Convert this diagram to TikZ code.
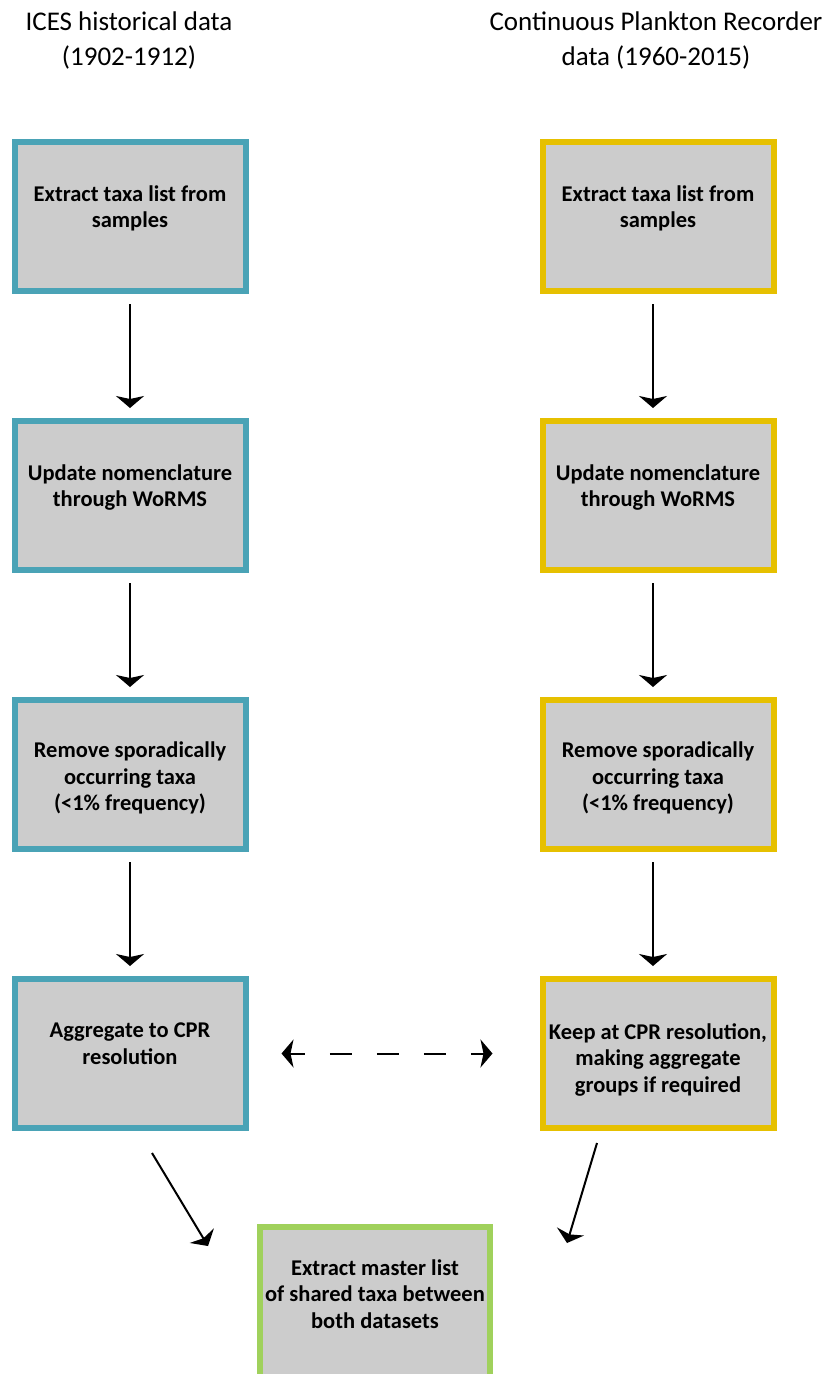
\documentclass[tikz,border=0pt]{standalone}
\usepackage{fontspec}
\setmainfont{Carlito}
\usetikzlibrary{arrows.meta}
\definecolor{tealc}{HTML}{4AA3B6}
\definecolor{goldc}{HTML}{E6C000}
\definecolor{limec}{HTML}{A0D15C}
\definecolor{grayc}{HTML}{CCCCCC}
\begin{document}
\begin{tikzpicture}[x=1pt,y=-1pt,
  boxbase/.style={draw, line width=6pt, fill=grayc, minimum width=231pt, minimum height=149pt, inner sep=0pt},
  lbox/.style={boxbase, draw=tealc},
  rbox/.style={boxbase, draw=goldc},
  gbox/.style={boxbase, draw=limec, minimum width=230pt, minimum height=160pt},
  txt/.style={font=\fontsize{22.5pt}{26.5pt}\selectfont\bfseries, align=center, inner sep=0pt, anchor=north},
  head/.style={font=\fontsize{27pt}{35pt}\selectfont, align=center, inner sep=0pt},
  arr/.style={line width=2pt, -{Stealth[length=12pt, width=28pt, inset=3pt]}},
  vert/.style={arr, shorten <=10pt, shorten >=10pt}
]
\useasboundingbox (0,0) rectangle (832,1374);
\fill[white] (0,0) rectangle (832,1374);

\node[head] (h1) at (129,40) {ICES historical data\\(1902-1912)};
\node[head] (h2) at (656,40) {Continuous Plankton Recorder\\data (1960-2015)};

\node[lbox] (a1) at (130,216.5) {};
\node[lbox] (a2) at (130,495.5) {};
\node[lbox] (a3) at (130,774.5) {};
\node[lbox] (a4) at (130,1053.5) {};
\node[rbox] (b1) at (658,216.5) {};
\node[rbox] (b2) at (658,495.5) {};
\node[rbox] (b3) at (658,774.5) {};
\node[rbox] (b4) at (658,1053.5) {};
\node[gbox] (c) at (375,1307) {};

\node[txt] (ta1) at ([yshift=-46.5pt]a1.north) {Extract taxa list from\\samples};
\node[txt] (ta2) at ([yshift=-46.5pt]a2.north) {Update nomenclature\\through WoRMS};
\node[txt] (ta3) at ([yshift=-45pt]a3.north) {Remove sporadically\\occurring taxa\\(<1\% frequency)};
\node[txt] (ta4) at ([yshift=-47pt]a4.north) {Aggregate to CPR\\resolution};
\node[txt] (tb1) at ([yshift=-46.5pt]b1.north) {Extract taxa list from\\samples};
\node[txt] (tb2) at ([yshift=-46.5pt]b2.north) {Update nomenclature\\through WoRMS};
\node[txt] (tb3) at ([yshift=-45pt]b3.north) {Remove sporadically\\occurring taxa\\(<1\% frequency)};
\node[txt] (tb4) at ([yshift=-47pt]b4.north) {Keep at CPR resolution,\\making aggregate\\groups if required};
\node[txt] (tc) at ([yshift=-35pt]c.north) {Extract master list\\of shared taxa between\\both datasets};

\draw[vert] (a1) -- (a2);
\draw[vert] (a2) -- (a3);
\draw[vert] (a3) -- (a4);
\draw[vert] ([xshift=-5pt]b1.south) -- ([xshift=-5pt]b2.north);
\draw[vert] ([xshift=-5pt]b2.south) -- ([xshift=-5pt]b3.north);
\draw[vert] ([xshift=-5pt]b3.south) -- ([xshift=-5pt]b4.north);

\draw[line width=2pt, {Stealth[length=12pt, width=28pt, inset=3pt]}-{Stealth[length=12pt, width=28pt, inset=3pt]},
  dash pattern=on 22pt off 25pt, dash phase=7pt, shorten <=33pt, shorten >=47pt] (a4) -- (b4);

\coordinate (l1) at (152,1153);
\coordinate (l2) at (208,1246);
\coordinate (r1) at (597,1143);
\coordinate (r2) at (567,1243);
\draw[arr] (l1) -- (l2);
\draw[arr] (r1) -- (r2);
\end{tikzpicture}
\end{document}
